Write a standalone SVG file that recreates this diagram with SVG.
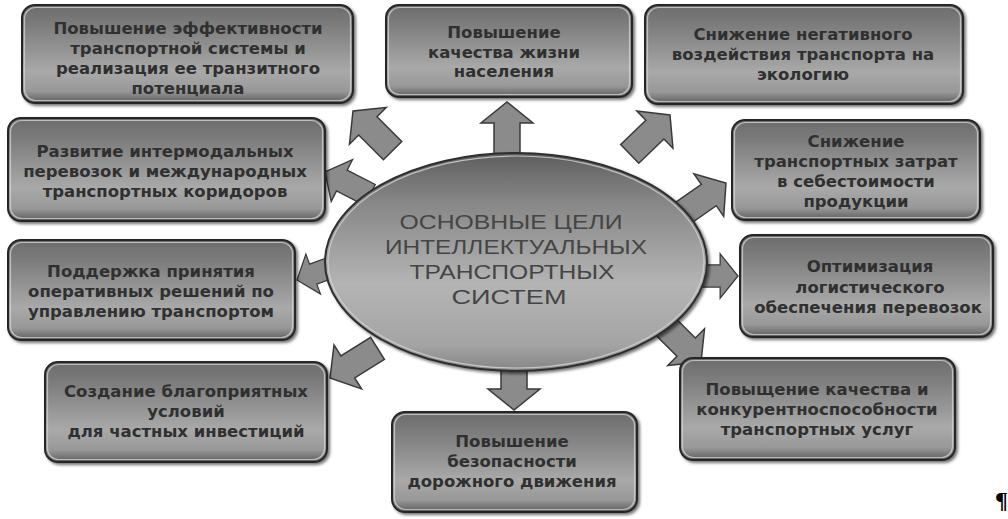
<svg xmlns="http://www.w3.org/2000/svg" xmlns:xlink="http://www.w3.org/1999/xlink" width="1008" height="519" viewBox="0 0 1008 519">
<defs>
<linearGradient id="boxg" x1="0" y1="0" x2="0" y2="1">
<stop offset="0" stop-color="#6c6c6c"/>
<stop offset="0.2" stop-color="#7c7c7c"/>
<stop offset="0.68" stop-color="#a9a9a9"/>
<stop offset="0.88" stop-color="#989898"/>
<stop offset="1" stop-color="#5c5c5c"/>
</linearGradient>
<linearGradient id="ellg" x1="0" y1="0" x2="0" y2="1">
<stop offset="0" stop-color="#5e5e5e"/>
<stop offset="0.22" stop-color="#868686"/>
<stop offset="0.6" stop-color="#b4b4b4"/>
<stop offset="0.88" stop-color="#a4a4a4"/>
<stop offset="1" stop-color="#858585"/>
</linearGradient>
<filter id="sh" x="-5%" y="-5%" width="115%" height="120%">
<feDropShadow dx="2" dy="2" stdDeviation="1.5" flood-color="#000" flood-opacity="0.55"/>
</filter>
<path id="arr" d="M -56,-13 L -21,-13 L -21,-26 L 0,0 L -21,26 L -21,13 L -56,13 Z"/>
</defs>
<style>
.box{fill:url(#boxg);stroke:#262626;stroke-width:2;filter:url(#sh)}
.rim{fill:none;stroke:#cfcfcf;stroke-width:1.2;opacity:0.8}
.t{font-family:"DejaVu Sans",sans-serif;font-weight:bold;font-size:16.5px;fill:#303030;text-anchor:middle}
.et{font-family:"Liberation Sans",Arial,sans-serif;font-size:21px;fill:#454545;text-anchor:middle}
.ar{fill:#8b8b8b;stroke:#3a3a3a;stroke-width:1.5;stroke-linejoin:miter}
</style>
<rect width="1008" height="519" fill="#ffffff"/>

<g id="connectors">
<use xlink:href="#arr" class="ar" transform="translate(353,111) rotate(-135)"/>
<use xlink:href="#arr" class="ar" transform="translate(507,102) rotate(-90)"/>
<use xlink:href="#arr" class="ar" transform="translate(670,115) rotate(-44)"/>
<use xlink:href="#arr" class="ar" transform="translate(726,183) rotate(-35)"/>
<use xlink:href="#arr" class="ar" transform="translate(738,276) scale(0.85)"/>
<use xlink:href="#arr" class="ar" transform="translate(701,362) rotate(45)"/>
<use xlink:href="#arr" class="ar" transform="translate(514,410) rotate(90)"/>
<use xlink:href="#arr" class="ar" transform="translate(330,378) rotate(148)"/>
<use xlink:href="#arr" class="ar" transform="translate(297,280) rotate(160) scale(0.82)"/>
<use xlink:href="#arr" class="ar" transform="translate(325,172) rotate(207) scale(0.9)"/>
</g>

<g id="center">
<ellipse cx="516" cy="262" rx="191" ry="109" fill="url(#ellg)" stroke="#2e2e2e" stroke-width="2" filter="url(#sh)"/>
<ellipse cx="516" cy="262" rx="188" ry="106" fill="none" stroke="#d6d6d6" stroke-width="1.2" opacity="0.8"/>
<text class="et" x="511" y="229" textLength="223" lengthAdjust="spacingAndGlyphs">ОСНОВНЫЕ ЦЕЛИ</text>
<text class="et" x="516" y="254" textLength="262" lengthAdjust="spacingAndGlyphs">ИНТЕЛЛЕКТУАЛЬНЫХ</text>
<text class="et" x="512" y="279" textLength="205" lengthAdjust="spacingAndGlyphs">ТРАНСПОРТНЫХ</text>
<text class="et" x="509" y="304" textLength="115" lengthAdjust="spacingAndGlyphs">СИСТЕМ</text>
</g>

<g id="n1">
<rect class="box" x="22" y="5" width="331" height="98" rx="13"/>
<rect class="rim" x="24.5" y="7.5" width="326" height="93" rx="11"/>
<text class="t" x="188" y="34">Повышение эффективности</text>
<text class="t" x="188" y="54">транспортной системы и</text>
<text class="t" x="188" y="74">реализация ее транзитного</text>
<text class="t" x="188" y="94">потенциала</text>
</g>

<g id="n2">
<rect class="box" x="386" y="5" width="246" height="92" rx="13"/>
<rect class="rim" x="388.5" y="7.5" width="241" height="87" rx="11"/>
<text class="t" x="504" y="38">Повышение</text>
<text class="t" x="504" y="58">качества жизни</text>
<text class="t" x="504" y="77">населения</text>
</g>

<g id="n3">
<rect class="box" x="645" y="5" width="318" height="99" rx="13"/>
<rect class="rim" x="647.5" y="7.5" width="313" height="94" rx="11"/>
<text class="t" x="803" y="40">Снижение негативного</text>
<text class="t" x="803" y="60">воздействия транспорта на</text>
<text class="t" x="803" y="80">экологию</text>
</g>

<g id="n4">
<rect class="box" x="8" y="118" width="317" height="103" rx="13"/>
<rect class="rim" x="10.5" y="120.5" width="312" height="98" rx="11"/>
<text class="t" x="165" y="157">Развитие интермодальных</text>
<text class="t" x="165" y="177">перевозок и международных</text>
<text class="t" x="165" y="197">транспортных коридоров</text>
</g>

<g id="n5">
<rect class="box" x="732" y="120" width="248" height="100" rx="13"/>
<rect class="rim" x="734.5" y="122.5" width="243" height="95" rx="11"/>
<text class="t" x="856" y="147">Снижение</text>
<text class="t" x="856" y="167">транспортных затрат</text>
<text class="t" x="856" y="187">в себестоимости</text>
<text class="t" x="856" y="207">продукции</text>
</g>

<g id="n6">
<rect class="box" x="8" y="240" width="287" height="100" rx="13"/>
<rect class="rim" x="10.5" y="242.5" width="282" height="95" rx="11"/>
<text class="t" x="151" y="277">Поддержка принятия</text>
<text class="t" x="151" y="297">оперативных решений по</text>
<text class="t" x="151" y="317">управлению транспортом</text>
</g>

<g id="n7">
<rect class="box" x="740" y="235" width="253" height="102" rx="13"/>
<rect class="rim" x="742.5" y="237.5" width="248" height="97" rx="11"/>
<text class="t" x="870" y="272">Оптимизация</text>
<text class="t" x="870" y="293">логистического</text>
<text class="t" x="868" y="313">обеспечения перевозок</text>
</g>

<g id="n8">
<rect class="box" x="45" y="362" width="282" height="100" rx="13"/>
<rect class="rim" x="47.5" y="364.5" width="277" height="95" rx="11"/>
<text class="t" x="186" y="397">Создание благоприятных</text>
<text class="t" x="186" y="417">условий</text>
<text class="t" x="186" y="437">для частных инвестиций</text>
</g>

<g id="n9">
<rect class="box" x="392" y="412" width="245" height="100" rx="13"/>
<rect class="rim" x="394.5" y="414.5" width="240" height="95" rx="11"/>
<text class="t" x="512" y="447">Повышение</text>
<text class="t" x="512" y="467">безопасности</text>
<text class="t" x="512" y="487">дорожного движения</text>
</g>

<g id="n10">
<rect class="box" x="680" y="358" width="275" height="102" rx="13"/>
<rect class="rim" x="682.5" y="360.5" width="270" height="97" rx="11"/>
<text class="t" x="817" y="395">Повыщение качества и</text>
<text class="t" x="817" y="415">конкурентноспособности</text>
<text class="t" x="817" y="435">транспортных услуг</text>
</g>

<text x="1008" y="508" font-family="Liberation Serif, serif" font-size="24" font-weight="bold" text-anchor="end" fill="#000">¶</text>
</svg>
